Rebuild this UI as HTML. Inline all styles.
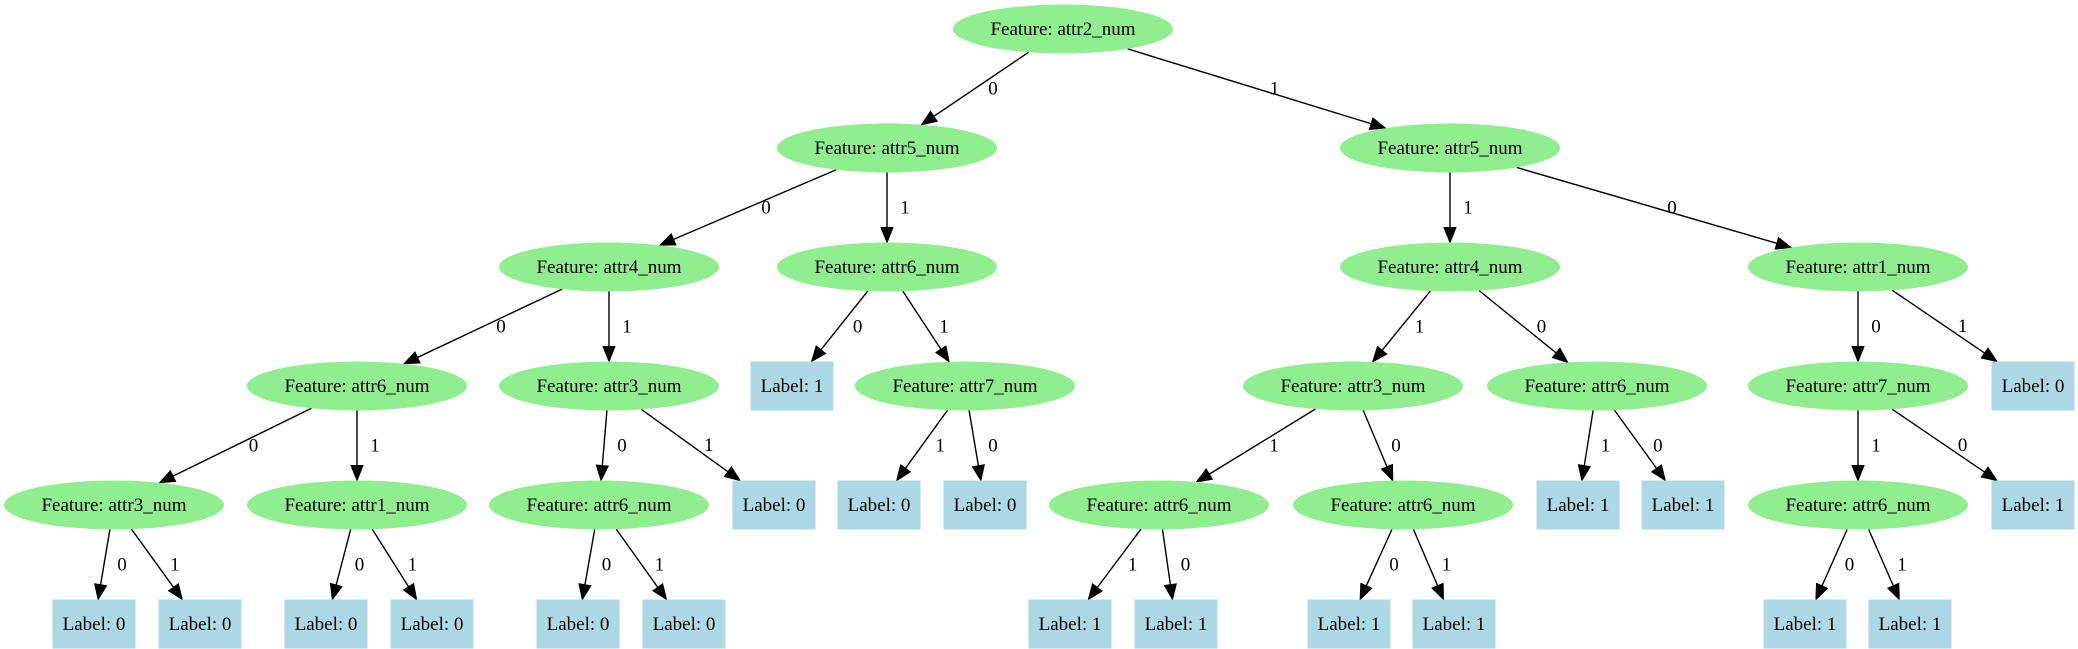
<!DOCTYPE html>
<html><head><meta charset="utf-8"><style>
html,body{margin:0;padding:0;background:#fff;}
svg{display:block;}
text{font-family:"Liberation Serif",serif;font-size:19px;fill:#000;}
</style></head><body>
<svg id="s" width="2078" height="649" viewBox="0 0 2078 649" xmlns="http://www.w3.org/2000/svg"></svg>
<script>
var Y=[29,148,267,386,505,624];
var N={
r:['e',1063,0,'Feature: attr2_num'],
a:['e',887,1,'Feature: attr5_num'],b:['e',1450,1,'Feature: attr5_num'],
c:['e',609,2,'Feature: attr4_num'],d:['e',887,2,'Feature: attr6_num'],f:['e',1450,2,'Feature: attr4_num'],g:['e',1858,2,'Feature: attr1_num'],
h:['e',357,3,'Feature: attr6_num'],i:['e',609,3,'Feature: attr3_num'],j:['b',792,3,'Label: 1'],k:['e',965,3,'Feature: attr7_num'],
l:['e',1353,3,'Feature: attr3_num'],m:['e',1597,3,'Feature: attr6_num'],n:['e',1858,3,'Feature: attr7_num'],o:['b',2033,3,'Label: 0'],
p:['e',114,4,'Feature: attr3_num'],q:['e',357,4,'Feature: attr1_num'],t:['e',599,4,'Feature: attr6_num'],u:['b',774,4,'Label: 0'],
v:['b',879,4,'Label: 0'],w:['b',985,4,'Label: 0'],x:['e',1159,4,'Feature: attr6_num'],y:['e',1403,4,'Feature: attr6_num'],
z:['b',1578,4,'Label: 1'],A:['b',1683,4,'Label: 1'],B:['e',1858,4,'Feature: attr6_num'],C:['b',2033,4,'Label: 1'],
D:['b',94,5,'Label: 0'],E:['b',200,5,'Label: 0'],F:['b',326,5,'Label: 0'],G:['b',432,5,'Label: 0'],H:['b',578,5,'Label: 0'],I:['b',684,5,'Label: 0'],
J:['b',1070,5,'Label: 1'],K:['b',1176,5,'Label: 1'],L:['b',1349,5,'Label: 1'],M:['b',1454,5,'Label: 1'],O:['b',1805,5,'Label: 1'],P:['b',1910,5,'Label: 1']
};
var E=[['r','a','0'],['r','b','1'],['a','c','0'],['a','d','1'],['b','f','1'],['b','g','0'],
['c','h','0'],['c','i','1'],['d','j','0'],['d','k','1'],['f','l','1'],['f','m','0'],['g','n','0'],['g','o','1'],
['h','p','0'],['h','q','1'],['i','t','0'],['i','u','1'],['k','v','1'],['k','w','0'],['l','x','1'],['l','y','0'],
['m','z','1'],['m','A','0'],['n','B','1'],['n','C','0'],
['p','D','0'],['p','E','1'],['q','F','0'],['q','G','1'],['t','H','0'],['t','I','1'],
['x','J','1'],['x','K','0'],['y','L','0'],['y','M','1'],['B','O','0'],['B','P','1']];
var RX=110,RY=24.5,BX=41.5,BY=24.5;
var h='';
function ell(dx,dy){return 1/Math.sqrt(dx*dx/(RX*RX)+dy*dy/(RY*RY));}
function box(dx,dy){return Math.min(BX/Math.abs(dx||1e-9),BY/Math.abs(dy||1e-9));}
E.forEach(function(e){
 var p=N[e[0]],c=N[e[1]];var x1=p[1],y1=Y[p[2]],x2=c[1],y2=Y[c[2]];
 var dx=x2-x1,dy=y2-y1;
 var t1=ell(dx,dy);var sx=x1+dx*t1,sy=y1+dy*t1;
 var t2=c[0]=='e'?ell(dx,dy):box(dx,dy);var ex=x2-dx*t2,ey=y2-dy*t2;
 var L=Math.hypot(ex-sx,ey-sy),ux=(ex-sx)/L,uy=(ey-sy)/L;
 var al=15,aw=6;var bx=ex-ux*al,by=ey-uy*al;
 h+='<line x1="'+sx+'" y1="'+sy+'" x2="'+bx+'" y2="'+by+'" stroke="#000" stroke-width="1.4"/>';
 h+='<polygon points="'+ex+','+ey+' '+(bx-uy*aw)+','+(by+ux*aw)+' '+(bx+uy*aw)+','+(by-ux*aw)+'" fill="#000" stroke="#000"/>';
 var mx=(sx+ex)/2+18,my=(sy+ey)/2+6;
 h+='<text x="'+mx+'" y="'+my+'" text-anchor="middle">'+e[2]+'</text>';
});
for(var k in N){var n=N[k],x=n[1],y=Y[n[2]];
 if(n[0]=='e')h+='<ellipse cx="'+x+'" cy="'+y+'" rx="'+RX+'" ry="'+RY+'" fill="#90ee90"/>';
 else h+='<rect x="'+(x-BX)+'" y="'+(y-BY)+'" width="'+(2*BX)+'" height="'+(2*BY)+'" fill="#add8e6"/>';
 h+='<text x="'+x+'" y="'+(y+6)+'" text-anchor="middle">'+n[3]+'</text>';}
document.getElementById('s').innerHTML=h;
</script>
</body></html>
